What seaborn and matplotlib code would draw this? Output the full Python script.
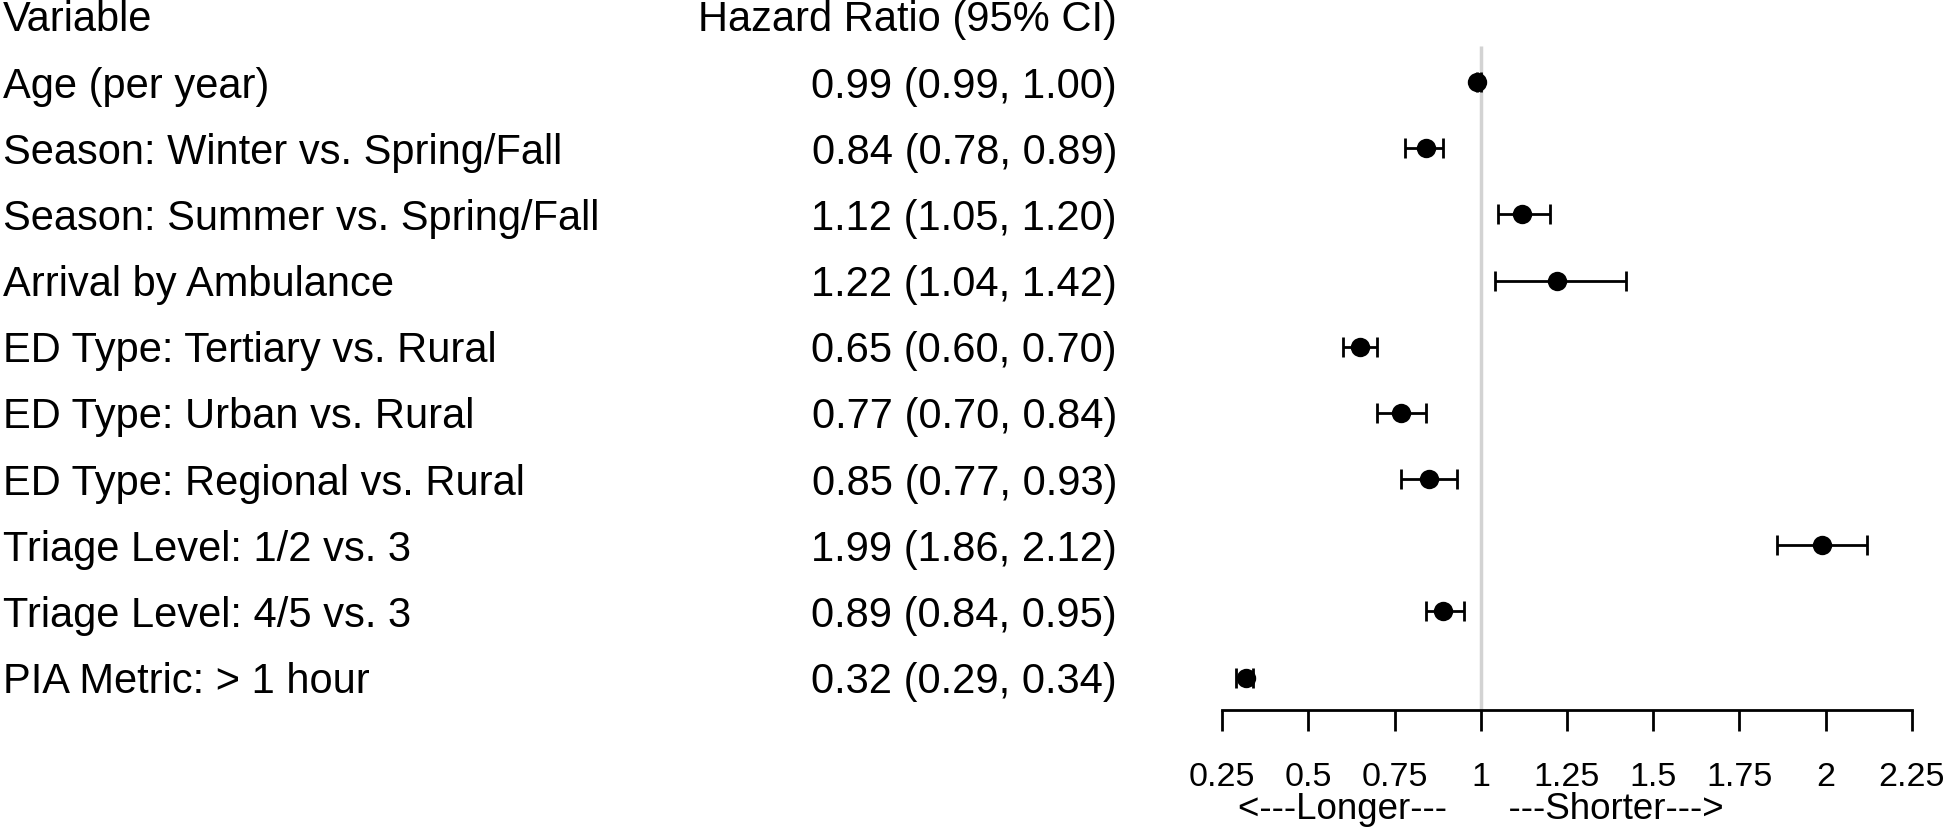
import matplotlib
matplotlib.use("Agg")
import matplotlib.pyplot as plt
import matplotlib.transforms as mtransforms
import pandas
import seaborn

# Values
variables = ["Age (per year)", "Season: Winter vs. Spring/Fall", "Season: Summer vs. Spring/Fall",
             "Arrival by Ambulance", "ED Type: Tertiary vs. Rural", "ED Type: Urban vs. Rural",
             "ED Type: Regional vs. Rural", "Triage Level: 1/2 vs. 3", "Triage Level: 4/5 vs. 3",
             "PIA Metric: > 1 hour"]
hr = [0.99, 0.84, 1.12, 1.22, 0.65, 0.77, 0.85, 1.99, 0.89, 0.32]
lower = [0.99, 0.78, 1.05, 1.04, 0.60, 0.70, 0.77, 1.86, 0.84, 0.29]
upper = [1.00, 0.89, 1.20, 1.42, 0.70, 0.84, 0.93, 2.12, 0.95, 0.34]
xticks = [0.25, 0.5, 0.75, 1, 1.25, 1.5, 1.75, 2, 2.25]
xticklabels = ["0.25", "0.5", "0.75", "1", "1.25", "1.5", "1.75", "2", "2.25"]

df = pandas.DataFrame({"variable": variables, "hr": hr, "lower": lower, "upper": upper})
df["row"] = range(1, len(df) + 1)
df["label"] = [f"{h:.2f} ({l:.2f}, {u:.2f})" for h, l, u in zip(df.hr, df.lower, df.upper)]

seaborn.set_style("white")
plt.rcParams["font.family"] = ["Liberation Sans", "DejaVu Sans"]
plt.rcParams["text.color"] = "black"

W, H = 1946, 829
fig = plt.figure(figsize=(W / 100, H / 100), dpi=100)
# axes spans the x scale 0.25..2.25 and from top of figure down to the axis line
ax = fig.add_axes([1222 / W, 1 - 711 / H, (1912 - 1222) / W, 711 / H])

ybottom, ytop = 10.49, -0.254
ax.set_xlim(0.25, 2.25)
ax.set_ylim(ybottom, ytop)

# reference line at HR = 1
ax.vlines(1, 0.46, ybottom, color="#d3d3d3", lw=2.5, zorder=0)

# confidence intervals
ax.errorbar(df.hr, df.row, xerr=[df.hr - df.lower, df.upper - df.hr], fmt="none",
            ecolor="black", elinewidth=2, capsize=7, capthick=2, zorder=2)
seaborn.scatterplot(data=df, x="hr", y="row", s=195, color="black", edgecolor="black",
                    linewidth=0, zorder=3, ax=ax, legend=False)

ax.set_xlabel("")
ax.set_ylabel("")
ax.set_yticks([])
ax.set_xticks(xticks)
ax.set_xticklabels(xticklabels, fontsize=24.5)
ax.tick_params(axis="x", bottom=True, direction="out", length=15, width=2, pad=22,
               color="black", labelcolor="black")
for s in ["left", "top", "right"]:
    ax.spines[s].set_visible(False)
ax.spines["bottom"].set_linewidth(2)
ax.spines["bottom"].set_color("black")

# text columns (figure x, data y)
trans = mtransforms.blended_transform_factory(fig.transFigure, ax.transData)
off = 0.22
fs = 30
ax.text(3 / W, 0 + off, "Variable", transform=trans, ha="left", va="baseline", fontsize=fs, clip_on=False)
ax.text(1117 / W, 0 + off, "Hazard Ratio (95% CI)", transform=trans, ha="right", va="baseline",
        fontsize=fs, clip_on=False)
for _, r in df.iterrows():
    ax.text(3 / W, r.row + off, r.variable, transform=trans, ha="left", va="baseline",
            fontsize=fs, clip_on=False)
    ax.text(1117 / W, r.row + off, r.label, transform=trans, ha="right", va="baseline",
            fontsize=fs, clip_on=False)

# direction label under the axis
trans2 = mtransforms.blended_transform_factory(ax.transData, fig.transFigure)
ax.text(1, 1 - 810 / H, "<---Longer---      ---Shorter--->", transform=trans2, ha="center",
        va="center", fontsize=26.5, clip_on=False)

fig.savefig("out.png", dpi=100)
